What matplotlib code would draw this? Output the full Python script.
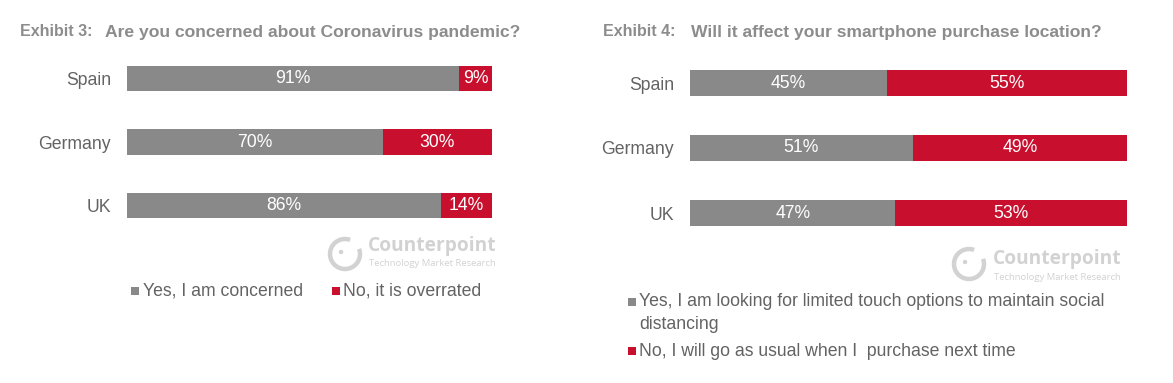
import matplotlib
matplotlib.use("Agg")
import matplotlib.pyplot as plt
from matplotlib.patches import Circle, Rectangle, Arc

plt.rcParams['font.family'] = ['Liberation Sans', 'DejaVu Sans']

# ---- data ----
countries = ["Spain", "Germany", "UK"]
concern_yes = [91, 70, 86]
concern_no = [9, 30, 14]
location_yes = [45, 51, 47]
location_no = [55, 49, 53]

title3_tag = "Exhibit 3:"
title3 = "Are you concerned about Coronavirus pandemic?"
title4_tag = "Exhibit 4:"
title4 = "Will it affect your smartphone purchase location?"
legend3 = ["Yes, I am concerned", "No, it is overrated"]
legend4 = ["Yes, I am looking for limited touch options to maintain social\ndistancing",
           "No, I will go as usual when I  purchase next time"]

GRAY = "#898989"
RED = "#c8102e"
TITLE_C = "#8c8c8c"
LABEL_C = "#636363"
LOGO_C = "#d2d2d2"
FS = 12.7

W, H = 1173, 383
fig = plt.figure(figsize=(W / 100, H / 100), dpi=100)
fig.patch.set_facecolor("white")


def px_axes(x0, y_top, x1, y_bot):
    return fig.add_axes([x0 / W, 1 - y_bot / H, (x1 - x0) / W, (y_bot - y_top) / H])


def draw_bars(ax, yes, no, height, pad):
    pos = range(len(countries))
    ax.barh(pos, yes, height=height, color=GRAY, edgecolor="none")
    ax.barh(pos, no, left=yes, height=height, color=RED, edgecolor="none")
    for i, (a, b) in enumerate(zip(yes, no)):
        ax.text(a / 2, i, f"{a}%", ha="center", va="center", color="white", fontsize=FS)
        ax.text(a + b / 2, i, f"{b}%", ha="center", va="center", color="white", fontsize=FS)
    ax.set_xlim(0, 100)
    ax.set_ylim(len(countries) - 0.5, -0.5)
    ax.set_yticks(list(pos))
    ax.set_yticklabels(countries, fontsize=FS, color=LABEL_C)
    ax.tick_params(axis="y", length=0, pad=pad)
    ax.set_xticks([])
    for s in ax.spines.values():
        s.set_visible(False)
    ax.patch.set_alpha(0)


# left chart
axL = px_axes(127, 46.5, 492, 237.5)
draw_bars(axL, concern_yes, concern_no, 0.40, 11.5)

# right chart
axR = px_axes(690, 50.5, 1127, 245.5)
draw_bars(axR, location_yes, location_no, 0.40, 11.5)

# overlay in pixel coordinates for titles, legends, logos
ov = fig.add_axes([0, 0, 1, 1])
ov.set_xlim(0, W)
ov.set_ylim(H, 0)
ov.axis("off")
ov.patch.set_alpha(0)

# titles
ov.text(20, 32, title3_tag, fontsize=11.5, fontweight="bold", color=TITLE_C, va="center")
ov.text(105, 32, title3, fontsize=12.6, fontweight="bold", color=TITLE_C, va="center")
ov.text(603, 32, title4_tag, fontsize=11.5, fontweight="bold", color=TITLE_C, va="center")
ov.text(691, 32, title4, fontsize=12.6, fontweight="bold", color=TITLE_C, va="center")


# legends
def legend_square(x, y, color):
    ov.add_patch(Rectangle((x - 4, y - 4), 8, 8, facecolor=color, edgecolor="none"))


legend_square(135, 291, GRAY)
ov.text(143, 291, legend3[0], fontsize=FS, color=LABEL_C, va="center")
legend_square(336, 291, RED)
ov.text(343, 291, legend3[1], fontsize=FS, color=LABEL_C, va="center")

legend_square(632, 302, GRAY)
ov.text(639, 293, legend4[0], fontsize=FS, color=LABEL_C, va="top", linespacing=1.45)
legend_square(632, 351, RED)
ov.text(639, 351, legend4[1], fontsize=FS, color=LABEL_C, va="center")


# logos
def logo(cx, cy, tx, ty1, ty2):
    ov.add_patch(Arc((cx, cy), 30, 30, theta1=-20, theta2=290, color=LOGO_C, linewidth=3.2))
    ov.add_patch(Circle((cx - 4, cy - 2), 2.2, facecolor=LOGO_C, edgecolor="none"))
    ov.text(tx, ty1, "Counterpoint", fontsize=13.8, fontweight="bold",
            color=LOGO_C, va="center", family=["Open Sans", "DejaVu Sans"])
    ov.text(tx + 1, ty2, "Technology Market Research", fontsize=6.8,
            color=LOGO_C, va="center", family=["Open Sans", "DejaVu Sans"])


logo(345, 254, 368, 246, 263)
logo(969, 264, 993, 259, 277)

fig.savefig("out.png", dpi=100)
